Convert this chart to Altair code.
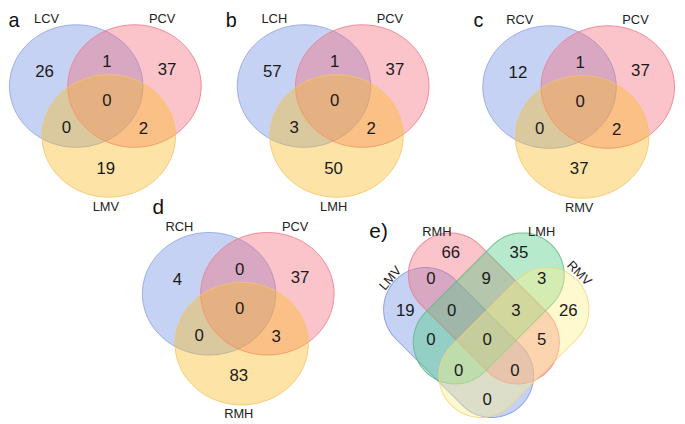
import altair as alt
import numpy as np
import pandas as pd

# ---------------- data ----------------
panel_tags = ["a", "b", "c", "d", "e)"]

sets_a = ["LCV", "PCV", "LMV"]
counts_a = [26, 1, 37, 0, 0, 2, 19]      # A, AB, B, ABC, AC, BC, C
sets_b = ["LCH", "PCV", "LMH"]
counts_b = [57, 1, 37, 0, 3, 2, 50]
sets_c = ["RCV", "PCV", "RMV"]
counts_c = [12, 1, 37, 0, 0, 2, 37]
sets_d = ["RCH", "PCV", "RMH"]
counts_d = [4, 0, 37, 0, 0, 3, 83]

sets_e = ["LMV", "RMH", "LMH", "RMV"]
# LMV, RMH, LMH, RMV, LMV&RMH, RMH&LMH, LMH&RMV, LMV&RMH&LMH, RMH&LMH&RMV,
# LMV&LMH, all, RMH&RMV, LMV&LMH&RMV, LMV&RMH&RMV, LMV&RMV
counts_e = [19, 66, 35, 26, 0, 9, 3, 0, 3, 0, 0, 5, 0, 0, 0]

# ---------------- layout (pixel geometry of the page) ----------------
X = alt.X("x:Q", scale=alt.Scale(domain=[8, 677], nice=False, zero=False), axis=None)
Y = alt.Y("y:Q", scale=alt.Scale(domain=[8, 416], nice=False, zero=False, reverse=True), axis=None)

venn3_origin = [(77, 84.5), (307.5, 84.5), (556, 85.5), (211.5, 294.7)]
circle_off = [(0, 0), (59, 0), (33, 50.5)]
RX, RY = 67.5, 62.0
region_off = [(-32, -14), (31, -24), (92, -16), (31, 15), (-10, 42.5), (68, 43.5), (30, 83.5)]
setlab_off = [(-30, -67.5), (87, -67.5), (30, 122)]
top_tag_pos = [(14, 9), (234, 9), (484, 9)]
low_tag_pos = [(160, 214), (383, 238)]

stad = [  # cx, cy, length between cap centres, radius, angle
    (464.0, 344.0, 94.8, 42.4, 45),
    (489.5, 309.5, 96.2, 42.4, 45),
    (494.5, 309.5, 96.2, 42.4, 135),
    (520.0, 344.0, 94.8, 42.4, 135),
]
e_region_pos = [(410, 312), (456, 253), (525, 253), (575, 312), (436, 280), (492, 280),
                (548, 280), (457, 312), (522, 312), (436, 342), (493, 342), (548, 342),
                (464, 373), (521, 373), (493, 402)]
e_label_pos = [(395, 279, 310), (442, 232, 0), (548, 232, 0), (586, 274, 45)]

fills3 = ["#6F8FE0", "#F5697A", "#FABB20"]
strokes3 = ["#8EA4E6", "#EE7D8C", "#F4C46A"]
fills4 = ["#6F8FE0", "#F5697A", "#4CCB7F", "#FFF08A"]
strokes4 = ["#7F97E0", "#EE7D8C", "#5DB981", "#F5D37A"]
FONT = "Liberation Sans"


def ellipse_path(ry_ratio, n=96):
    t = np.linspace(0, 2 * np.pi, n, endpoint=False)
    pts = [f"{np.cos(a):.4f},{ry_ratio * np.sin(a):.4f}" for a in t]
    return "M" + " L".join(pts) + " Z"


def stadium_path(length, r, n=40):
    half = length / 2 + r
    a = (length / 2) / half
    rr = r / half
    pts = []
    for t in np.linspace(-np.pi / 2, np.pi / 2, n):
        pts.append((a + rr * np.cos(t), rr * np.sin(t)))
    for t in np.linspace(np.pi / 2, 3 * np.pi / 2, n):
        pts.append((-a + rr * np.cos(t), rr * np.sin(t)))
    return "M" + " L".join(f"{x:.4f},{y:.4f}" for x, y in pts) + " Z", (2 * half) ** 2


def shape_layer(cx, cy, path, size, angle, fill, stroke, fop):
    df = pd.DataFrame({"x": [cx], "y": [cy]})
    return alt.Chart(df).mark_point(
        shape=path, size=size, angle=angle, filled=True, fill=fill, fillOpacity=fop,
        stroke=stroke, strokeWidth=1, strokeOpacity=0.85, opacity=1,
    ).encode(x=X, y=Y)


layers = []
epath = ellipse_path(RY / RX)
esize = (2 * RX) ** 2
for (bx, by) in venn3_origin:
    for k, (dx, dy) in enumerate(circle_off):
        layers.append(shape_layer(bx + dx, by + dy, epath, esize, 0, fills3[k], strokes3[k], 0.4))

for k, (cx, cy, L, r, ang) in enumerate(stad):
    p, s = stadium_path(L, r)
    layers.append(shape_layer(cx, cy, p, s, ang, fills4[k], strokes4[k], 0.4))

# numbers
num_rows = []
lab_rows = []
for (bx, by), counts, sets in zip(venn3_origin, [counts_a, counts_b, counts_c, counts_d],
                                  [sets_a, sets_b, sets_c, sets_d]):
    for (dx, dy), c in zip(region_off, counts):
        num_rows.append({"x": bx + dx, "y": by + dy, "t": str(c)})
    for (dx, dy), s in zip(setlab_off, sets):
        lab_rows.append({"x": bx + dx, "y": by + dy, "t": s, "a": 0})
for (x, y), c in zip(e_region_pos, counts_e):
    num_rows.append({"x": x, "y": y, "t": str(c)})
for (x, y, a), s in zip(e_label_pos, sets_e):
    lab_rows.append({"x": x, "y": y, "t": s, "a": a})

num_df = pd.DataFrame(num_rows)
lab_df = pd.DataFrame(lab_rows)
top_tag_df = pd.DataFrame({"x": [p[0] for p in top_tag_pos], "y": [p[1] for p in top_tag_pos],
                           "t": panel_tags[:3]})
low_tag_df = pd.DataFrame({"x": [p[0] for p in low_tag_pos], "y": [p[1] for p in low_tag_pos],
                           "t": panel_tags[3:]})

layers.append(alt.Chart(num_df).mark_text(font=FONT, fontSize=17, color="#1a1a1a", baseline="middle", align="center")
              .encode(x=X, y=Y, text="t:N"))
lab_plain = lab_df[lab_df["a"] == 0]
layers.append(alt.Chart(lab_plain).mark_text(font=FONT, fontSize=13, color="#222222", baseline="middle", align="center")
              .encode(x=X, y=Y, text="t:N"))
for _, row in lab_df[lab_df["a"] != 0].iterrows():
    layers.append(alt.Chart(pd.DataFrame([row])).mark_text(font=FONT, fontSize=13, color="#222222", baseline="middle",
                                                           align="center", angle=float(row["a"]))
                  .encode(x=X, y=Y, text="t:N"))
layers.append(alt.Chart(top_tag_df).mark_text(font=FONT, fontSize=20, color="#111111", baseline="top", align="center")
              .encode(x=X, y=Y, text="t:N"))
layers.append(alt.Chart(low_tag_df).mark_text(font=FONT, fontSize=21, color="#111111", baseline="alphabetic", align="center")
              .encode(x=X, y=Y, text="t:N"))

chart = alt.layer(*layers).properties(
    width=669, height=408,
    autosize=alt.AutoSizeParams(type="none"),
    padding={"left": 0, "top": 0, "right": 8, "bottom": 8},
    background="white",
).configure_view(stroke=None)

chart.save("out.html", embed_options={"renderer": "svg", "actions": False})
